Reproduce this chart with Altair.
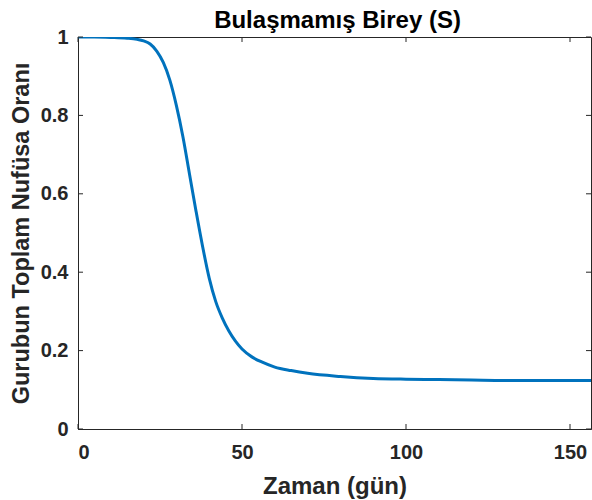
import altair as alt
import pandas as pd

t_days = [0, 5, 10, 15, 18, 20, 22, 24, 26, 28, 30, 32, 34, 36, 38, 40, 42, 44, 46, 48,
          50, 53, 56, 60, 65, 70, 80, 90, 100, 110, 120, 130, 140, 150, 156.4]
s_vals = [1.0, 1.0, 0.999, 0.997, 0.994, 0.990, 0.982, 0.964, 0.935, 0.890, 0.825, 0.745,
          0.650, 0.555, 0.465, 0.385, 0.325, 0.283, 0.250, 0.224, 0.204, 0.184, 0.171,
          0.158, 0.149, 0.142, 0.134, 0.129, 0.127, 0.126, 0.125, 0.124, 0.124, 0.124, 0.124]
x_ticks = [0, 50, 100, 150]
y_ticks = [0, 0.2, 0.4, 0.6, 0.8, 1.0]
title_text = ["Bulaşmamış Birey (S)"]

W, H = 513, 392
AX = "#262626"
FONT = "Liberation Sans"

df = pd.DataFrame({"t": t_days, "S": s_vals})
xt = pd.DataFrame({"v": x_ticks})
yt = pd.DataFrame({"v": y_ticks})
tt = pd.DataFrame({"title": title_text})

xs = alt.Scale(domain=[0, 156.4], nice=False, zero=False)
ys = alt.Scale(domain=[0, 1], nice=False)

line = alt.Chart(df).mark_line(color="#0072BD", strokeWidth=3, interpolate="monotone", clip=True).encode(
    x=alt.X("t:Q", scale=xs, title="Zaman (gün)",
            axis=alt.Axis(values=x_ticks, labelExpr="format(datum.value, 'd')")),
    y=alt.Y("S:Q", scale=ys, title="Gurubun Toplam Nufüsa Oranı",
            axis=alt.Axis(values=y_ticks, labelExpr="datum.value == 0 ? '0' : datum.value == 1 ? '1' : format(datum.value, '.1f')")),
)

xb = alt.Chart(xt).mark_rule(color=AX, strokeWidth=1).encode(
    x=alt.X("v:Q", scale=xs), y=alt.value(H), y2=alt.value(H - 5))
xtop = alt.Chart(xt).mark_rule(color=AX, strokeWidth=1).encode(
    x=alt.X("v:Q", scale=xs), y=alt.value(0), y2=alt.value(5))
yl = alt.Chart(yt).mark_rule(color=AX, strokeWidth=1).encode(
    y=alt.Y("v:Q", scale=ys), x=alt.value(0), x2=alt.value(5))
yr = alt.Chart(yt).mark_rule(color=AX, strokeWidth=1).encode(
    y=alt.Y("v:Q", scale=ys), x=alt.value(W), x2=alt.value(W - 5))

title = alt.Chart(tt).mark_text(font=FONT, fontSize=24, fontWeight="bold", color="#000000",
                                baseline="alphabetic", align="center").encode(
    text="title:N", x=alt.value(259.5), y=alt.value(-9))

chart = alt.layer(line, xb, xtop, yl, yr, title).properties(
    width=W, height=H,
    autosize=alt.AutoSizeParams(type="none"),
    padding={"left": 78, "top": 37, "right": 1, "bottom": 71},
).configure_view(stroke=AX, strokeWidth=1).configure_axis(
    grid=False, ticks=False, domainColor=AX, domainWidth=1,
    labelFont=FONT, labelFontSize=20, labelFontWeight="bold", labelColor=AX,
    titleFont=FONT, titleFontWeight="bold", titleColor=AX,
).configure_axisX(labelPadding=13, titleFontSize=24, titleBaseline="alphabetic", titleY=64).configure_axisY(
    labelPadding=10, titleFontSize=23.5, titleBaseline="alphabetic", titleX=-50)

chart.save("out.html", embed_options={"renderer": "svg", "actions": False})
